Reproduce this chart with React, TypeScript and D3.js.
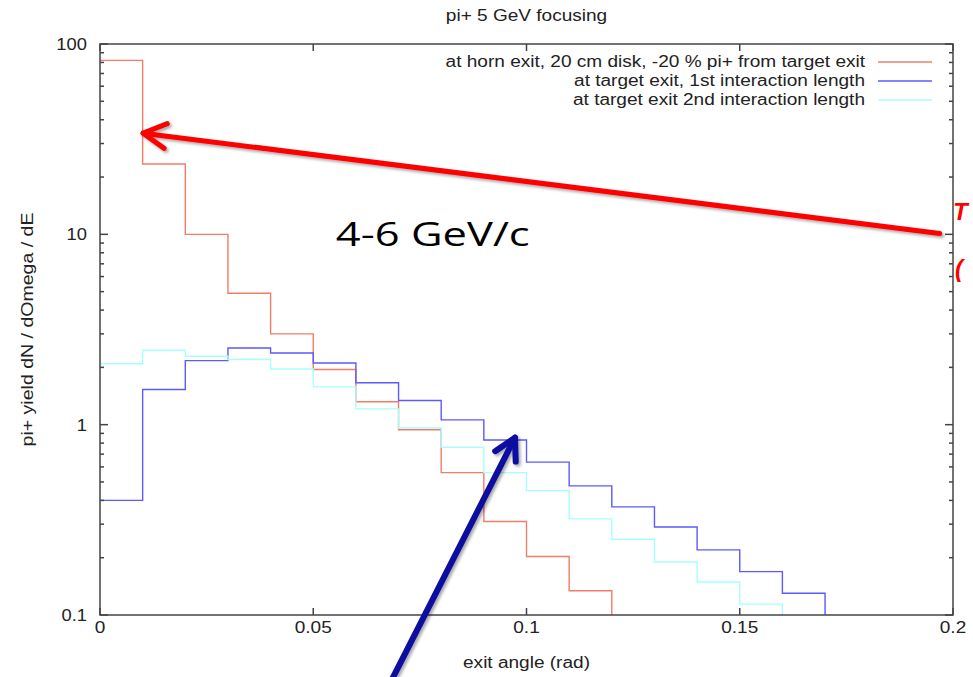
import React, { useEffect, useRef } from 'react'
import * as d3 from 'd3'

// bin edges: 0.01 rad wide, starting at 0
const binWidth = 0.01
const hornExit = [82, 23.4, 10, 4.9, 3.0, 1.95, 1.32, 0.94, 0.56, 0.31, 0.203, 0.134]
const target1st = [0.4, 1.53, 2.17, 2.53, 2.38, 2.11, 1.66, 1.34, 1.06, 0.83, 0.636, 0.477, 0.37, 0.29, 0.22, 0.169, 0.13]
const target2nd = [2.09, 2.46, 2.29, 2.2, 1.96, 1.58, 1.21, 0.96, 0.76, 0.56, 0.45, 0.32, 0.25, 0.19, 0.149, 0.114]

const seriesNames = [
  'at horn exit, 20 cm disk, -20 % pi+ from target exit',
  'at target exit, 1st interaction length',
  'at target exit 2nd interaction length'
]
const seriesColors = ['#f27c68', '#5a5aff', '#a6ffff']

const xTicks = [0, 0.05, 0.1, 0.15, 0.2]
const xTickLabels = ['0', '0.05', '0.1', '0.15', '0.2']
const yTicks = [0.1, 1, 10, 100]
const yTickLabels = ['0.1', '1', '10', '100']

const title = 'pi+ 5 GeV focusing'
const xLabel = 'exit angle (rad)'
const yLabel = 'pi+ yield dN / dOmega / dE'

// annotations, in data coordinates
const redArrow = { from: [0.1969, 10.1], to: [0.0101, 34] }
const blueArrow = { from: [0.0687, 0.047], to: [0.0973, 0.855] }
const bigLabel = { text: '4-6 GeV/c', at: [0.0553, 8.65] }

const width = 973
const height = 677
const margin = { left: 100, right: 20, top: 44, bottom: 62 }
const font = '"Liberation Sans", Arial, sans-serif'
// the source picture is stretched sideways, so is its text
const stretch = 1.19

const addText = (g, str, x, y, opts = {}) => {
  const { size = 16, sx = stretch, anchor = 'start', rotate = 0, family = font, fill = '#222' } = opts
  return g.append('text')
    .text(str)
    .attr('transform', `translate(${x},${y}) rotate(${rotate}) scale(${sx},1)`)
    .attr('text-anchor', anchor)
    .attr('font-family', family)
    .attr('font-size', size)
    .attr('fill', fill)
}

const makeArrow = (g, x, y, arrow, color, w, headLen) => {
  const [x1, y1] = [x(arrow.from[0]), y(arrow.from[1])]
  const [x2, y2] = [x(arrow.to[0]), y(arrow.to[1])]
  const angle = Math.atan2(y1 - y2, x1 - x2)
  const spread = 0.5
  const grp = g.append('g')
    .attr('stroke', color)
    .attr('stroke-width', w)
    .attr('stroke-linecap', 'round')
    .attr('stroke-linejoin', 'round')
    .attr('fill', 'none')
    .attr('filter', 'url(#shadow)')
  const head = [
    [x2 + headLen * Math.cos(angle + spread), y2 + headLen * Math.sin(angle + spread)],
    [x2, y2],
    [x2 + headLen * Math.cos(angle - spread), y2 + headLen * Math.sin(angle - spread)]
  ]
  grp.append('line')
    .attr('x1', x1).attr('y1', y1)
    .attr('x2', x2).attr('y2', y2)
  grp.append('path').attr('d', d3.line()(head))
}

const App = () => {
  const ref = useRef(null)

  useEffect(() => {
    const svg = d3.select(ref.current)
    svg.selectAll('*').remove()

    const x = d3.scaleLinear().domain([0, 0.2]).range([margin.left, width - margin.right])
    const y = d3.scaleLog().domain([0.1, 100]).range([height - margin.bottom, margin.top])
    const [left, right] = x.range()
    const [bottom, top] = y.range()

    const defs = svg.append('defs')
    const filter = defs.append('filter').attr('id', 'shadow')
      .attr('x', '-20%').attr('y', '-20%').attr('width', '140%').attr('height', '140%')
    filter.append('feDropShadow')
      .attr('dx', 2).attr('dy', 2).attr('stdDeviation', 1.5)
      .attr('flood-color', '#000').attr('flood-opacity', 0.35)
    defs.append('clipPath').attr('id', 'plot-clip')
      .append('rect').attr('x', left).attr('y', top).attr('width', right - left).attr('height', bottom - top)

    // histograms
    const step = d3.line()
      .x((d) => x(d[0]))
      .y((d) => y(Math.max(d[1], 0.1)))
      .curve(d3.curveStepAfter)

    const plot = svg.append('g').attr('clip-path', 'url(#plot-clip)')
    ;[hornExit, target1st, target2nd].forEach((vals, s) => {
      const pts = vals.map((v, i) => [i * binWidth, v])
      pts.push([vals.length * binWidth, vals[vals.length - 1]])
      pts.push([vals.length * binWidth, 0.1])
      plot.append('path')
        .attr('d', step(pts))
        .attr('fill', 'none')
        .attr('stroke', seriesColors[s])
        .attr('stroke-width', 1.4)
    })

    // frame + ticks
    const axes = svg.append('g').attr('stroke', '#444').attr('stroke-width', 1.5)
    axes.append('rect')
      .attr('x', left).attr('y', top)
      .attr('width', right - left).attr('height', bottom - top)
      .attr('fill', 'none')

    xTicks.forEach((t) => {
      axes.append('line').attr('x1', x(t)).attr('x2', x(t)).attr('y1', bottom).attr('y2', bottom - 7)
      axes.append('line').attr('x1', x(t)).attr('x2', x(t)).attr('y1', top).attr('y2', top + 7)
    })

    const minor = []
    yTicks.slice(0, -1).forEach((t) => {
      for (let k = 2; k <= 9; k++) minor.push(t * k)
    })
    yTicks.forEach((t) => {
      axes.append('line').attr('x1', left).attr('x2', left + 8).attr('y1', y(t)).attr('y2', y(t))
      axes.append('line').attr('x1', right).attr('x2', right - 8).attr('y1', y(t)).attr('y2', y(t))
    })
    minor.forEach((t) => {
      axes.append('line').attr('x1', left).attr('x2', left + 4).attr('y1', y(t)).attr('y2', y(t))
      axes.append('line').attr('x1', right).attr('x2', right - 4).attr('y1', y(t)).attr('y2', y(t))
    })

    // tick labels
    const labels = svg.append('g')
    xTicks.forEach((t, i) => {
      addText(labels, xTickLabels[i], x(t), bottom + 18, { size: 17, sx: 1.12, anchor: 'middle' })
    })
    yTicks.forEach((t, i) => {
      addText(labels, yTickLabels[i], left - 13, y(t) + 6, { size: 17, sx: 1.08, anchor: 'end' })
    })

    // titles
    addText(svg, title, (left + right) / 2, 21, { anchor: 'middle' })
    addText(svg, xLabel, (left + right) / 2, bottom + 53, { anchor: 'middle' })
    addText(svg, yLabel, 33, (top + bottom) / 2, { size: 17, sx: 1.15, anchor: 'middle', rotate: -90 })

    // legend
    const legend = svg.append('g')
    seriesNames.forEach((name, i) => {
      const ly = top + 23 + i * 19
      addText(legend, name, 865, ly, { anchor: 'end' })
      legend.append('line')
        .attr('x1', 878).attr('x2', 932)
        .attr('y1', ly - 5).attr('y2', ly - 5)
        .attr('stroke', seriesColors[i]).attr('stroke-width', 1.4)
    })

    // annotations
    addText(svg, bigLabel.text, x(bigLabel.at[0]), y(bigLabel.at[1]), {
      size: 32, sx: 1.36, family: '"Open Sans", "Noto Sans", sans-serif', fill: '#000'
    })

    makeArrow(svg, x, y, redArrow, '#ff0000', 5, 26)
    makeArrow(svg, x, y, blueArrow, '#0a0aa0', 6, 24)

    addText(svg, 'T', 953, 220, { size: 24, sx: 1, fill: '#ff0000' })
      .attr('font-style', 'italic').attr('font-weight', 'bold')
    addText(svg, '(', 955, 277, { size: 24, sx: 1, fill: '#ff0000' })
      .attr('font-style', 'italic').attr('font-weight', 'bold')
  }, [])

  return (
    <svg
      ref={ref}
      width={width}
      height={height}
      style={{ position: 'fixed', left: 0, top: 0, background: '#fff' }}
    />
  )
}

export default App
